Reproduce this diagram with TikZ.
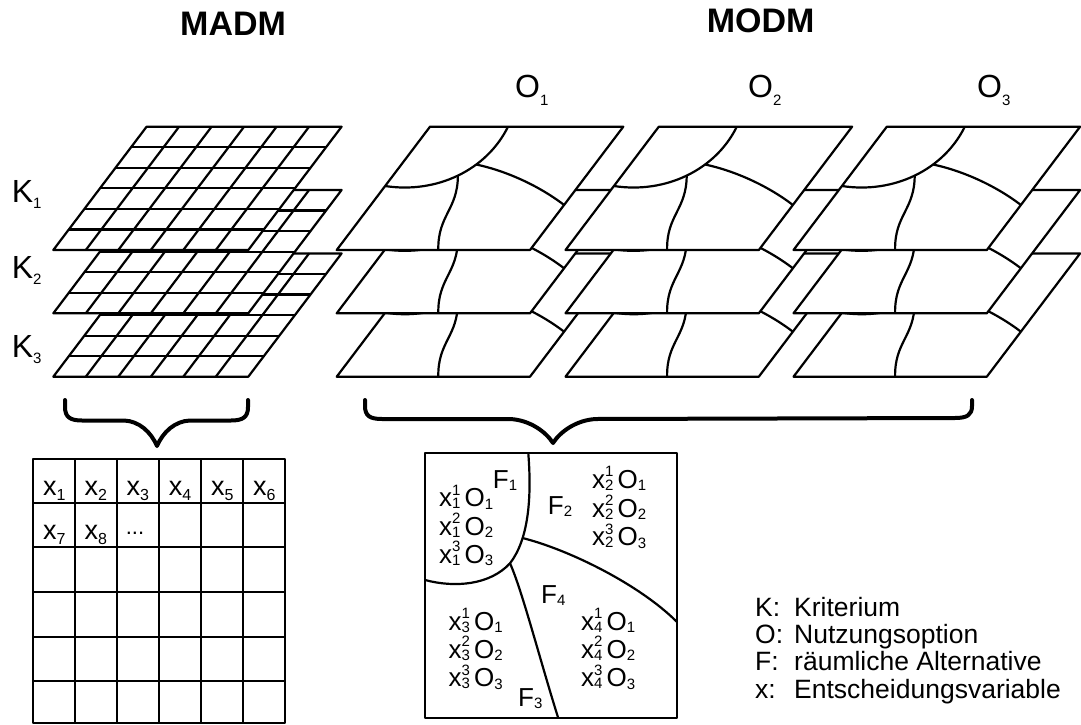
\documentclass[tikz,border=0pt]{standalone}
\usepackage{fontspec}
\setmainfont{Liberation Sans}
\newcommand\sbsz[3]{\raisebox{#2}{\fontsize{#1}{#1}\selectfont #3}}
\newcommand\fx[2]{x\rlap{\sbsz{15}{11.5pt}{#2}}\sbsz{15}{-2pt}{#1}}
\newcommand\fxo[2]{\fx{#1}{#2}\hspace{4pt}O\sbsz{15}{-2.5pt}{#2}}
\begin{document}
\begin{tikzpicture}[x=1pt,y=-1pt,
  ln/.style={line width=2.2pt,line join=round},
  layer/.style={ln,fill=white},
  bracestyle/.style={line width=4pt,line cap=round,line join=round},
  lbl/.style={inner sep=0pt,anchor=base west},
  ttl/.style={lbl,font=\fontsize{34}{34}\selectfont\bfseries},
  klbl/.style={lbl,font=\fontsize{32}{32}\selectfont},
  tlbl/.style={inner sep=0pt,anchor=base,font=\fontsize{27}{27}\selectfont},
  flbl/.style={lbl,font=\fontsize{26}{26}\selectfont},
  leg/.style={lbl,font=\fontsize{26.5}{26.5}\selectfont},
  gridlayer/.pic={
    \filldraw[layer] (0,0) -- (195,0) -- (288.3,-123.3) -- (93.3,-123.3) -- cycle;
    \foreach \i in {1,...,5} { \draw[ln] ({15.55*\i},{-20.55*\i}) -- ({195+15.55*\i},{-20.55*\i}); }
    \foreach \j in {1,...,5} { \draw[ln] ({32.5*\j},0) -- ({93.3+32.5*\j},-123.3); }
  },
  modlayer/.pic={
    \filldraw[layer] (0,0) -- (193.3,0) -- (286.6,-123.3) -- (93.3,-123.3) -- cycle;
    \draw[ln] (171.3,-123.3) .. controls (150,-80) and (100,-56) .. (48.4,-64);
    \draw[ln] (139.5,-85.5) .. controls (166,-80) and (200,-66) .. (227.4,-45);
    \draw[ln] (121.2,-74.4) .. controls (121,-40) and (101,-35) .. (101.6,0);
  }
]
\useasboundingbox (0,0) rectangle (1081,725);

% titles
\node[ttl] (madm) at (180,36) {MADM};
\node[ttl] (modm) at (706.7,32.7) {MODM};

% K labels
\node[klbl] (k1) at (11.7,202) {K\sbsz{15}{-6pt}{1}};
\node[klbl] (k2) at (11.7,278) {K\sbsz{15}{-6pt}{2}};
\node[klbl] (k3) at (11.7,357) {K\sbsz{15}{-6pt}{3}};

% O labels
\node[klbl] (o1) at (515,97.3) {O\sbsz{15}{-8pt}{1}};
\node[klbl] (o2) at (748,97.3) {O\sbsz{15}{-8pt}{2}};
\node[klbl] (o3) at (977,97.3) {O\sbsz{15}{-8pt}{3}};

% MADM grids
\pic at (53.3,376.7) {gridlayer};
\pic at (53.3,313.3) {gridlayer};
\pic at (53.3,250) {gridlayer};

% MODM stacks
\foreach \ox in {336.7,565.5,793.5} {
  \pic at (\ox,376.7) {modlayer};
  \pic at (\ox,313.3) {modlayer};
  \pic at (\ox,250) {modlayer};
}

% braces
\draw[bracestyle] (65,400) -- (65,407) .. controls (65,417) and (70,420.5) .. (82,420.5)
  -- (124,420.5) .. controls (139,421) and (151,432) .. (157,446)
  .. controls (163,432) and (175,421) .. (190,420.5) -- (231,420.5)
  .. controls (243,420.5) and (248,417) .. (248,407) -- (248,400);
\draw[bracestyle] (365,400) -- (365,406) .. controls (365,416) and (370,419) .. (382,419)
  -- (510,419) .. controls (530,420) and (546,432) .. (553,443)
  .. controls (560,432) and (576,420) .. (596,419) -- (955,418)
  .. controls (967,418) and (972,415) .. (972,406) -- (972,400);

% MADM table
\draw[ln] (33.3,459) rectangle (285,723.3);
\foreach \cx in {75,116.7,159,201,243.3} { \draw[ln] (\cx,459) -- (\cx,723.3); }
\foreach \ry in {503.3,546.7,591.7,636.7,681} { \draw[ln] (33.3,\ry) -- (285,\ry); }
\foreach \c/\n in {54.2/1,95.9/2,137.9/3,180/4,222.2/5,264.2/6} {
  \node[tlbl] (t\n) at (\c,495) {x\sbsz{16}{-5pt}{\n}};
}
\node[tlbl] (t7) at (54.2,539) {x\sbsz{16}{-5pt}{7}};
\node[tlbl] (t8) at (95.9,539) {x\sbsz{16}{-5pt}{8}};
\node[tlbl] (tdots) at (135,539) {\raisebox{5pt}{\fontsize{22}{22}\selectfont ...}};

% MODM result box
\draw[ln] (425,453.3) rectangle (676.7,718.3);
\draw[ln] (528.3,453.3) .. controls (532,500) and (528,540) .. (510,563.3)
  .. controls (490,585) and (455,588) .. (425,580);
\draw[ln] (522.5,538) .. controls (570,550) and (640,585) .. (676.7,621.7);
\draw[ln] (510,563.3) .. controls (522,590) and (540,660) .. (558.3,718.3);

\node[flbl] (f1) at (492.7,488.3) {F\sbsz{15}{-2pt}{1}};
\node[flbl] (f2) at (547.7,514) {F\sbsz{15}{-2pt}{2}};
\node[flbl] (f4) at (541,603.3) {F\sbsz{15}{-2pt}{4}};
\node[flbl] (f3) at (518,706.7) {F\sbsz{15}{-2pt}{3}};

\foreach \k/\y in {1/506.7,2/535,3/563.3} { \node[flbl] (a\k) at (439,\y) {\fxo{1}{\k}}; }
\foreach \k/\y in {1/488.3,2/517,3/545.7} { \node[flbl] (b\k) at (592,\y) {\fxo{2}{\k}}; }
\foreach \k/\y in {1/630,2/658.3,3/686.7} { \node[flbl] (c\k) at (448.5,\y) {\fxo{3}{\k}}; }
\foreach \k/\y in {1/630,2/658.3,3/686.7} { \node[flbl] (d\k) at (581,\y) {\fxo{4}{\k}}; }

% legend
\node[leg] (lk) at (755,616) {K:};
\node[leg] (lo) at (755,643.3) {O:};
\node[leg] (lf) at (755,670.7) {F:};
\node[leg] (lx) at (755,698.3) {x:};
\node[leg] (lk2) at (794,616) {Kriterium};
\node[leg] (lo2) at (794,643.3) {Nutzungsoption};
\node[leg] (lf2) at (794,670.7) {räumliche Alternative};
\node[leg] (lx2) at (794,698.3) {Entscheidungsvariable};
\end{tikzpicture}
\end{document}
